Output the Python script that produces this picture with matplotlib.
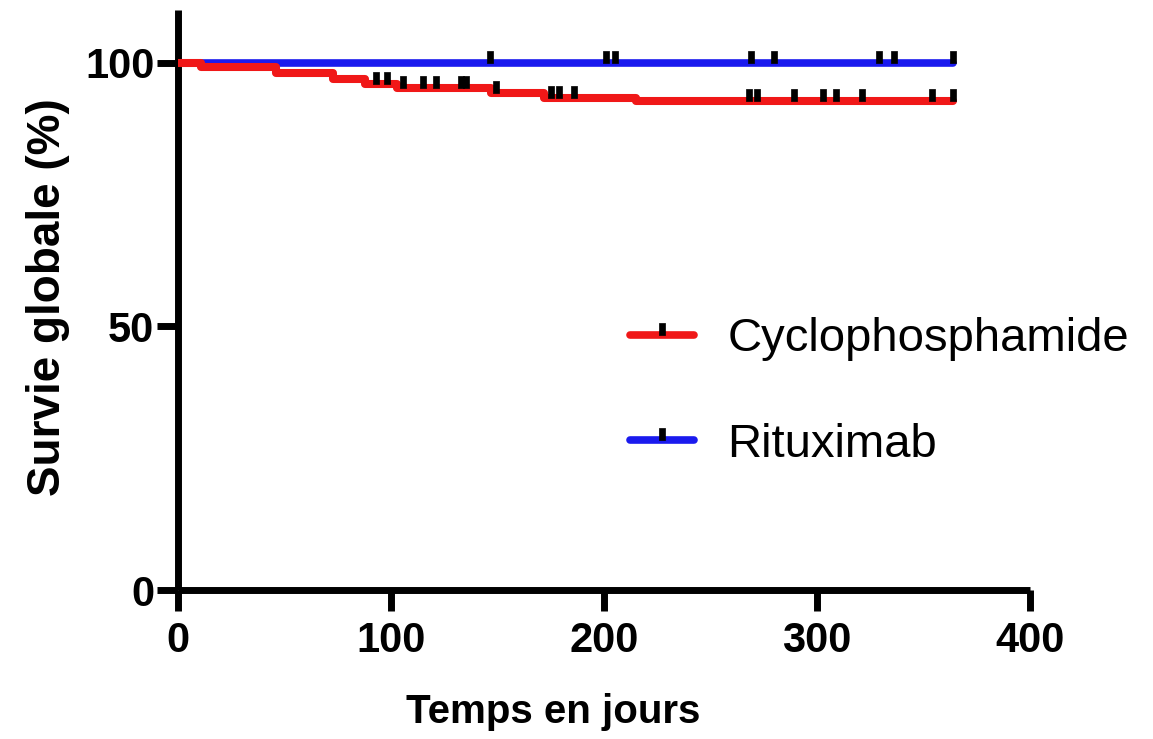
import numpy as np
import matplotlib
matplotlib.use('Agg')
import matplotlib.pyplot as plt
from matplotlib.lines import Line2D

plt.rcParams['font.family'] = ['Liberation Sans', 'DejaVu Sans']

# Kaplan-Meier steps (days, % survival)
cyclo_t = [0, 11, 46, 73, 88, 103, 147, 172, 215, 364]
cyclo_s = [100, 99.1, 98.0, 96.9, 96.0, 95.2, 94.2, 93.4, 92.7, 92.7]
ritux_t = [0, 364]
ritux_s = [100, 100]

# censored observations (days)
cyclo_cens = [93, 98, 105.5, 115, 121, 133, 135, 149.5, 175, 179, 186,
              268, 272, 289, 303, 309, 321, 354, 364]
ritux_cens = [146.5, 201, 205, 269, 280, 329, 336, 364]

labels = ['Cyclophosphamide', 'Rituximab']
colors = ['#f01818', '#1a1aee']

x_ticks = [0, 100, 200, 300, 400]
y_ticks = [0, 50, 100]

# little black tick drawn above the curve
cens_marker = [(-0.29, 0), (0.29, 0), (0.29, 1), (-0.29, 1), (-0.29, 0)]


def surv_at(times, steps_t, steps_s):
    idx = np.searchsorted(steps_t, times, side='right') - 1
    return np.asarray(steps_s)[idx]


fig = plt.figure(figsize=(11.53, 7.39), dpi=100)
ax = fig.add_axes([178 / 1153, 149 / 739, 852 / 1153, 580 / 739])

ax.step(ritux_t, ritux_s, where='post', color=colors[1], lw=5.5,
        solid_capstyle='round', zorder=3)
ax.step(cyclo_t, cyclo_s, where='post', color=colors[0], lw=5.8,
        solid_capstyle='round', zorder=4)

ax.plot(ritux_cens, surv_at(ritux_cens, ritux_t, ritux_s), ls='none',
        marker=cens_marker, ms=17, mfc='black', mec='black', mew=0.5,
        zorder=5, clip_on=False)
ax.plot(cyclo_cens, surv_at(cyclo_cens, cyclo_t, cyclo_s), ls='none',
        marker=cens_marker, ms=17, mfc='black', mec='black', mew=0.5,
        zorder=5, clip_on=False)

ax.set_xlim(0, 400)
ax.set_ylim(0, 110)
ax.set_xticks(x_ticks)
ax.set_yticks(y_ticks)

for s in ['top', 'right']:
    ax.spines[s].set_visible(False)
for s in ['left', 'bottom']:
    ax.spines[s].set_linewidth(5)
    ax.spines[s].set_capstyle('butt')

ax.tick_params(axis='both', direction='out', length=15, width=5,
               labelsize=30)
ax.tick_params(axis='x', pad=7)
ax.tick_params(axis='y', pad=2)
for lab in ax.get_xticklabels() + ax.get_yticklabels():
    lab.set_fontweight('bold')

ax.set_xlabel('Temps en jours', fontsize=29, fontweight='bold')
ax.xaxis.set_label_coords(0.44, -0.177)
ax.set_ylabel('Survie globale (%)', fontsize=33, fontweight='bold')
ax.yaxis.set_label_coords(-0.127, 0.505)

handles = [Line2D([], [], color=c, lw=5.5, solid_capstyle='round',
                  marker=cens_marker, ms=17, mfc='black', mec='black',
                  mew=0.5) for c in colors]
fig.legend(handles, labels, loc='center left',
           bbox_to_anchor=(630 / 1153, 1 - 392 / 739), frameon=False,
           fontsize=34, handlelength=1.36, handletextpad=0.7,
           labelspacing=1.3, borderpad=0, borderaxespad=0, numpoints=1)

fig.savefig('out.png', dpi=100)
